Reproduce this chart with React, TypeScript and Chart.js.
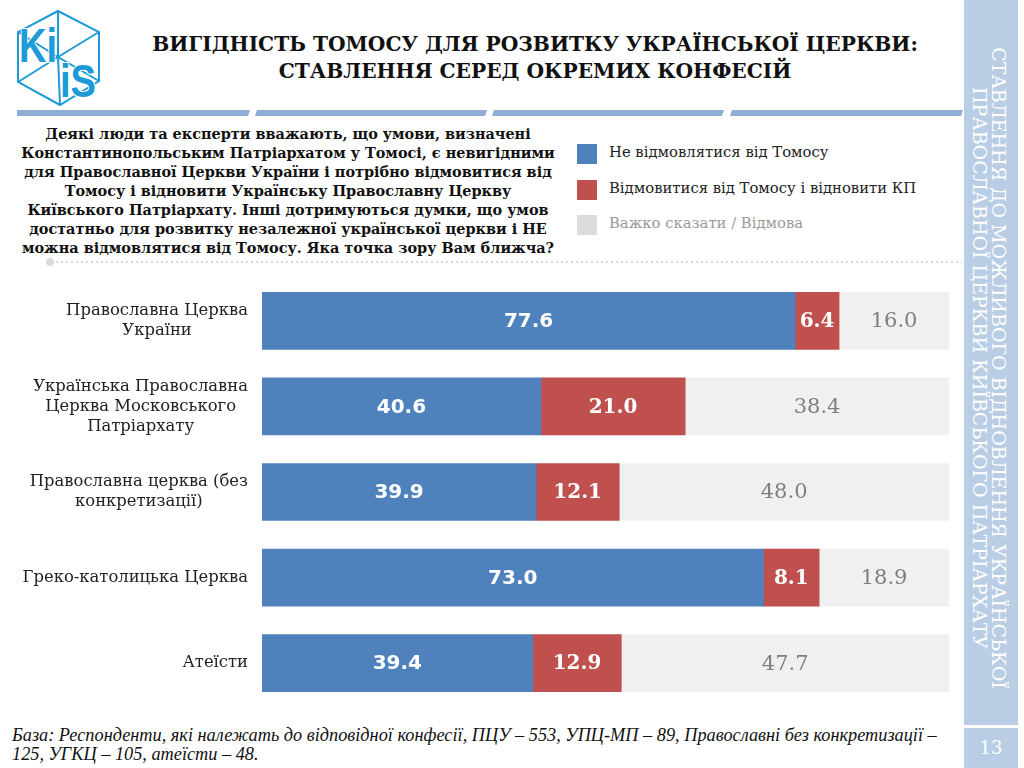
import React, { useEffect, useRef } from "react";
import { Chart, registerables } from "chart.js";

Chart.register(...registerables);

const categories: string[][] = [
  ["Православна Церква", "України"],
  ["Українська Православна", "Церква Московського", "Патріархату"],
  ["Православна церква (без", "конкретизації)"],
  ["Греко-католицька Церква"],
  ["Атеїсти"],
];
const notRefuse = [77.6, 40.6, 39.9, 73.0, 39.4];
const refuse = [6.4, 21.0, 12.1, 8.1, 12.9];
const hardToSay = [16.0, 38.4, 48.0, 18.9, 47.7];
const seriesNames = [
  "Не відмовлятися від Томосу",
  "Відмовитися від Томосу і відновити КП",
  "Важко сказати / Відмова",
];

const BLUE = "#4F81BD";
const RED = "#C0504D";
const GRAY = "#F0F0F0";
const SERIF = '"DejaVu Serif", serif';

const valueLabelPlugin = {
  id: "valueLabels",
  afterDatasetsDraw(chart: any) {
    const ctx = chart.ctx;
    const fonts = [
      { font: 'bold 20px "DejaVu Sans", sans-serif', color: "#FFFFFF" },
      { font: 'bold 20px "DejaVu Serif", serif', color: "#FFFFFF" },
      { font: '21px "DejaVu Serif", serif', color: "#7F7F7F" },
    ];
    chart.data.datasets.forEach((ds: any, di: number) => {
      const meta = chart.getDatasetMeta(di);
      meta.data.forEach((el: any, i: number) => {
        const { x, base, y } = el.getProps(["x", "base", "y"], true);
        ctx.save();
        ctx.font = fonts[di].font;
        ctx.fillStyle = fonts[di].color;
        ctx.textAlign = "center";
        ctx.textBaseline = "middle";
        ctx.fillText(Number(ds.data[i]).toFixed(1), (x + base) / 2, y + 1);
        ctx.restore();
      });
    });
  },
};

const categoryLabelPlugin = {
  id: "categoryLabels",
  afterDraw(chart: any) {
    const ctx = chart.ctx;
    const yScale = chart.scales.y;
    ctx.save();
    ctx.font = '16.4px "DejaVu Serif", serif';
    ctx.fillStyle = "#222222";
    ctx.textAlign = "center";
    ctx.textBaseline = "middle";
    const lineH = 20;
    categories.forEach((lines, i) => {
      const cy = yScale.getPixelForTick(i);
      const w = Math.max(...lines.map((l) => ctx.measureText(l).width));
      const cx = yScale.right - 14 - w / 2;
      lines.forEach((l, j) => {
        ctx.fillText(l, cx, cy + (j - (lines.length - 1) / 2) * lineH);
      });
    });
    ctx.restore();
  },
};

function Logo() {
  const c = "#1E9AD6";
  const cx = 58;
  const cy = 57;
  const verts = [
    [58, 11],
    [99, 32],
    [99, 81],
    [60, 105],
    [18, 82],
    [18, 32],
  ];
  return (
    <svg width="120" height="120" style={{ position: "absolute", left: 0, top: 0 }}>
      <g fill="none" stroke={c} strokeWidth="2">
        <polygon points={verts.map((v) => v.join(",")).join(" ")} />
        {verts.map((v, i) => (
          <line key={i} x1={cx} y1={cy} x2={v[0]} y2={v[1]} />
        ))}
      </g>
      <text
        x="19"
        y="62"
        fill={c}
        stroke="#fff"
        strokeWidth="2"
        paintOrder="stroke"
        fontFamily='"Liberation Sans", sans-serif'
        fontWeight="bold"
        fontSize="48"
        textLength="38"
        lengthAdjust="spacingAndGlyphs"
      >
        Ki
      </text>
      <text
        x="60"
        y="97"
        fill={c}
        stroke="#fff"
        strokeWidth="2"
        paintOrder="stroke"
        fontFamily='"Liberation Sans", sans-serif'
        fontWeight="bold"
        fontSize="46"
        textLength="36"
        lengthAdjust="spacingAndGlyphs"
      >
        iS
      </text>
    </svg>
  );
}

export default function App() {
  const canvasRef = useRef<HTMLCanvasElement | null>(null);

  useEffect(() => {
    if (!canvasRef.current) return;
    const chart = new Chart(canvasRef.current, {
      type: "bar",
      data: {
        labels: categories.map((c) => c.join(" ")),
        datasets: [
          { label: seriesNames[0], data: notRefuse, backgroundColor: BLUE },
          { label: seriesNames[1], data: refuse, backgroundColor: RED },
          { label: seriesNames[2], data: hardToSay, backgroundColor: GRAY },
        ],
      },
      options: {
        indexAxis: "y",
        animation: false,
        responsive: false,
        devicePixelRatio: 1,
        layout: { padding: { left: 0, right: 11, top: 0, bottom: 0 } },
        datasets: { bar: { barThickness: 57, borderWidth: 0 } },
        plugins: { legend: { display: false }, tooltip: { enabled: false } },
        scales: {
          x: { stacked: true, min: 0, max: 100, display: false },
          y: {
            stacked: true,
            grid: { display: false, drawTicks: false },
            border: { display: false },
            ticks: { display: false },
            afterFit: (scale: any) => {
              scale.width = 262;
            },
          },
        },
      } as any,
      plugins: [valueLabelPlugin, categoryLabelPlugin],
    });
    return () => chart.destroy();
  }, []);

  const sepColor = "#8EAED6";
  const legendItems = [
    { color: BLUE, text: seriesNames[0], textColor: "#222", top: 144 },
    { color: RED, text: seriesNames[1], textColor: "#222", top: 180 },
    { color: "#DCDCDC", text: seriesNames[2], textColor: "#9A9A9A", top: 215 },
  ];

  return (
    <div style={{ position: "fixed", left: 0, top: 0, width: 1024, height: 768, background: "#fff", overflow: "hidden" }}>
      <Logo />
      <div
        style={{
          position: "absolute",
          left: 135,
          top: 31,
          width: 800,
          textAlign: "center",
          fontFamily: SERIF,
          fontWeight: "bold",
          fontSize: 20.2,
          lineHeight: "27px",
          color: "#111",
          whiteSpace: "nowrap",
        }}
      >
        ВИГІДНІСТЬ ТОМОСУ ДЛЯ РОЗВИТКУ УКРАЇНСЬКОЇ ЦЕРКВИ:
        <br />
        СТАВЛЕННЯ СЕРЕД ОКРЕМИХ КОНФЕСІЙ
      </div>
      <svg width="964" height="10" style={{ position: "absolute", left: 0, top: 108 }}>
        <polygon points="17,2 250,2 248,8 17,8" fill={sepColor} />
        <polygon points="257,2 487,2 485,8 255,8" fill={sepColor} />
        <polygon points="494,2 724,2 722,8 492,8" fill={sepColor} />
        <polygon points="732,2 963,2 961,8 730,8" fill={sepColor} />
      </svg>
      <div
        style={{
          position: "absolute",
          left: 0,
          top: 124,
          width: 576,
          textAlign: "center",
          fontFamily: SERIF,
          fontWeight: "bold",
          fontSize: 14.45,
          lineHeight: "19px",
          color: "#111",
          whiteSpace: "nowrap",
        }}
      >
        Деякі люди та експерти вважають, що умови, визначені
        <br />
        Константинопольським Патріархатом у Томосі, є невигідними
        <br />
        для Православної Церкви України і потрібно відмовитися від
        <br />
        Томосу і відновити Українську Православну Церкву
        <br />
        Київського Патріархату. Інші дотримуються думки, що умов
        <br />
        достатньо для розвитку незалежної української церкви і НЕ
        <br />
        можна відмовлятися від Томосу. Яка точка зору Вам ближча?
      </div>
      {legendItems.map((it) => (
        <div key={it.text}>
          <div style={{ position: "absolute", left: 577, top: it.top, width: 20, height: 20, background: it.color }} />
          <div
            style={{
              position: "absolute",
              left: 609,
              top: it.top - 2,
              height: 20,
              lineHeight: "20px",
              fontFamily: SERIF,
              fontSize: 14.8,
              color: it.textColor,
              whiteSpace: "nowrap",
            }}
          >
            {it.text}
          </div>
        </div>
      ))}
      <svg width="964" height="12" style={{ position: "absolute", left: 0, top: 256 }}>
        <circle cx="50" cy="6" r="4" fill="#DADADA" />
        <line x1="56" y1="6" x2="962" y2="6" stroke="#D6D6D6" strokeWidth="2" strokeDasharray="2 3" />
      </svg>
      <canvas
        ref={canvasRef}
        width={960}
        height={428}
        style={{ position: "absolute", left: 0, top: 278, width: 960, height: 428 }}
      />
      <div
        style={{
          position: "absolute",
          left: 12,
          top: 726,
          width: 940,
          fontFamily: '"Liberation Serif", serif',
          fontStyle: "italic",
          fontSize: 18.3,
          lineHeight: "19px",
          color: "#111",
          whiteSpace: "nowrap",
        }}
      >
        База: Респонденти, які належать до відповідної конфесії, ПЦУ – 553, УПЦ-МП – 89, Православні без конкретизації –
        <br />
        125, УГКЦ – 105, атеїсти – 48.
      </div>
      <div style={{ position: "absolute", left: 964, top: 0, width: 54, height: 725, background: "#B9CDE5" }} />
      <div
        style={{
          position: "absolute",
          left: 988 - 360,
          top: 368 - 20,
          width: 720,
          height: 40,
          transform: "rotate(90deg)",
          transformOrigin: "50% 50%",
          textAlign: "center",
          fontFamily: SERIF,
          fontSize: 19,
          lineHeight: "19px",
          color: "#FFFFFF",
          whiteSpace: "nowrap",
        }}
      >
        СТАВЛЕННЯ ДО МОЖЛИВОГО ВІДНОВЛЕННЯ УКРАЇНСЬКОЇ
        <br />
        ПРАВОСЛАВНОЇ ЦЕРКВИ КИЇВСЬКОГО ПАТРІАРХАТУ
      </div>
      <div
        style={{
          position: "absolute",
          left: 964,
          top: 728,
          width: 54,
          height: 40,
          background: "#B9CDE5",
          color: "#fff",
          fontFamily: SERIF,
          fontSize: 18,
          lineHeight: "40px",
          textAlign: "center",
        }}
      >
        13
      </div>
    </div>
  );
}
